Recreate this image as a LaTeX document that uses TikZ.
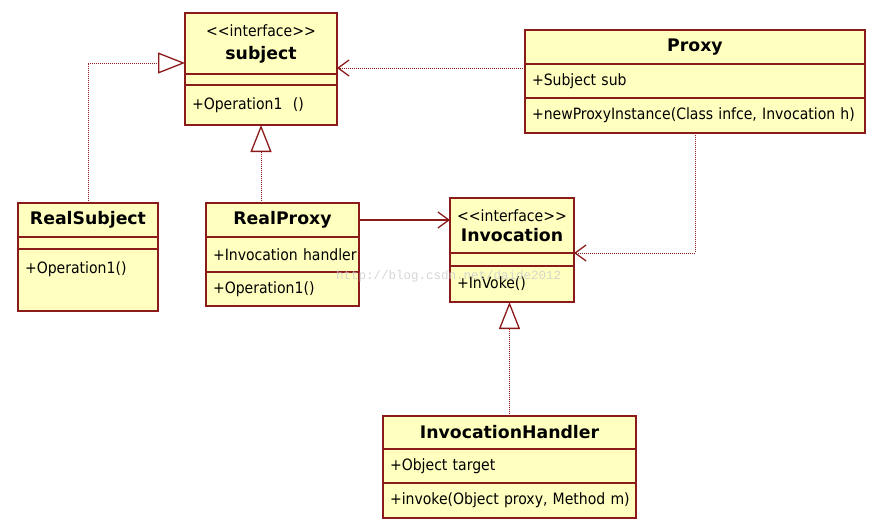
\documentclass[tikz,border=0pt]{standalone}
\usepackage{fontspec}
\setmainfont{DejaVu Sans Condensed}
\newfontfamily\wide{DejaVu Sans}
\newfontfamily\markfont{Liberation Mono}
\usepackage{xcolor}
\usepackage{tikz}
\usetikzlibrary{arrows.meta,positioning}

\definecolor{umlred}{HTML}{8B1A1A}
\definecolor{umlfill}{HTML}{FFFFC0}
\newcommand\umlname[1]{{\wide\bfseries\fontsize{17.3}{20}\selectfont #1}}
\newcommand\stereo{\textless\kern0pt\textless interface\textgreater\kern0pt\textgreater}

\tikzset{
  umlbox/.style={draw=umlred, fill=umlfill, line width=1.6pt, inner ysep=0pt,
    inner xsep=7pt, outer sep=0pt, text width=#1, font=\fontsize{15.6}{18}\selectfont},
  head/.style={umlbox=#1, align=center, anchor=north west},
  part/.style={umlbox=#1, align=left},
  realize/.style={umlred, line width=0.9pt, dash pattern=on 1pt off 1pt,
    -{Triangle[open, length=27pt, width=21pt, line width=1.3pt]}},
  depend/.style={umlred, line width=0.9pt, dash pattern=on 1pt off 1pt,
    -{Straight Barb[length=11pt, width=16pt, line width=1.3pt]}},
  assoc/.style={umlred, line width=1.3pt, -{Straight Barb[length=11pt, width=16pt]}},
}

\begin{document}
\begin{tikzpicture}[x=1pt, y=-1pt]
      \useasboundingbox[fill=white] (0,0) rectangle (887,527);
      % interface subject
      \node[head=138pt, minimum height=61pt] (subj) at (185,13)
          {\stereo\\[5pt]\umlname{subject}};
      \node[part=138pt, minimum height=11pt, below=0pt of subj] (subjA) {};
      \node[part=138pt, minimum height=40pt, below=0pt of subjA] (subjM) {+Operation1\ \ ()};
      % Proxy
      \node[head=326pt, minimum height=34pt] (px) at (525,30) {\umlname{Proxy}};
      \node[part=326pt, minimum height=34pt, below=0pt of px] (pxA) {+Subject sub};
      \node[part=326pt, minimum height=35pt, below=0pt of pxA] (pxM)
          {\mbox{+newProxyInstance(Class infce, Invocation h)}};
      % RealSubject
      \node[head=126pt, minimum height=34pt] (rs) at (18,203) {\umlname{RealSubject}};
      \node[part=126pt, minimum height=12pt, below=0pt of rs] (rsA) {};
      \node[part=126pt, minimum height=62pt, text height=24pt, text depth=38pt,
          below=0pt of rsA] (rsM) {+Operation1()};
      % RealProxy
      \node[head=139pt, minimum height=34pt] (rp) at (206,203) {\umlname{RealProxy}};
      \node[part=139pt, minimum height=35pt, below=0pt of rp] (rpA) {\mbox{+Invocation handler}};
      \node[part=139pt, minimum height=34pt, below=0pt of rpA] (rpM) {+Operation1()};
      % interface Invocation
      \node[head=110pt, minimum height=55pt] (inv) at (450,198)
          {\stereo\\[2pt]\umlname{Invocation}};
      \node[part=110pt, minimum height=13pt, below=0pt of inv] (invA) {};
      \node[part=110pt, minimum height=36pt, below=0pt of invA] (invM) {+InVoke()};
      % InvocationHandler
      \node[head=239pt, minimum height=33pt] (ih) at (383,416) {\umlname{InvocationHandler}};
      \node[part=239pt, minimum height=34pt, below=0pt of ih] (ihA) {+Object target};
      \node[part=239pt, minimum height=35pt, below=0pt of ihA] (ihM)
          {\mbox{+invoke(Object proxy, Method m)}};

      % realizations
      \draw[realize] (rs.north) |- ([yshift=11pt]subj.south west);
      \draw[realize] (subjM.south |- rp.north) -- (subjM.south);
      \draw[realize] (ih.north) -- (ih.north |- invM.south);
      % dependencies
      \coordinate (pxd) at ([yshift=-4pt]px.south west);
      \draw[depend] (pxd) -- (pxd -| subj.east);
      \draw[depend] (pxM.south) |- (inv.south east);
      % association
      \draw[assoc] (rp.east) -- (rp.east -| inv.west);

      % watermark
      \node[font=\markfont\fontsize{12.5}{14}\selectfont, text=gray!40, opacity=0.8,
          anchor=west, inner sep=0pt] (wm) at (336,276) {http://blog.csdn.net/daide2012};
    \end{tikzpicture}
\end{document}
